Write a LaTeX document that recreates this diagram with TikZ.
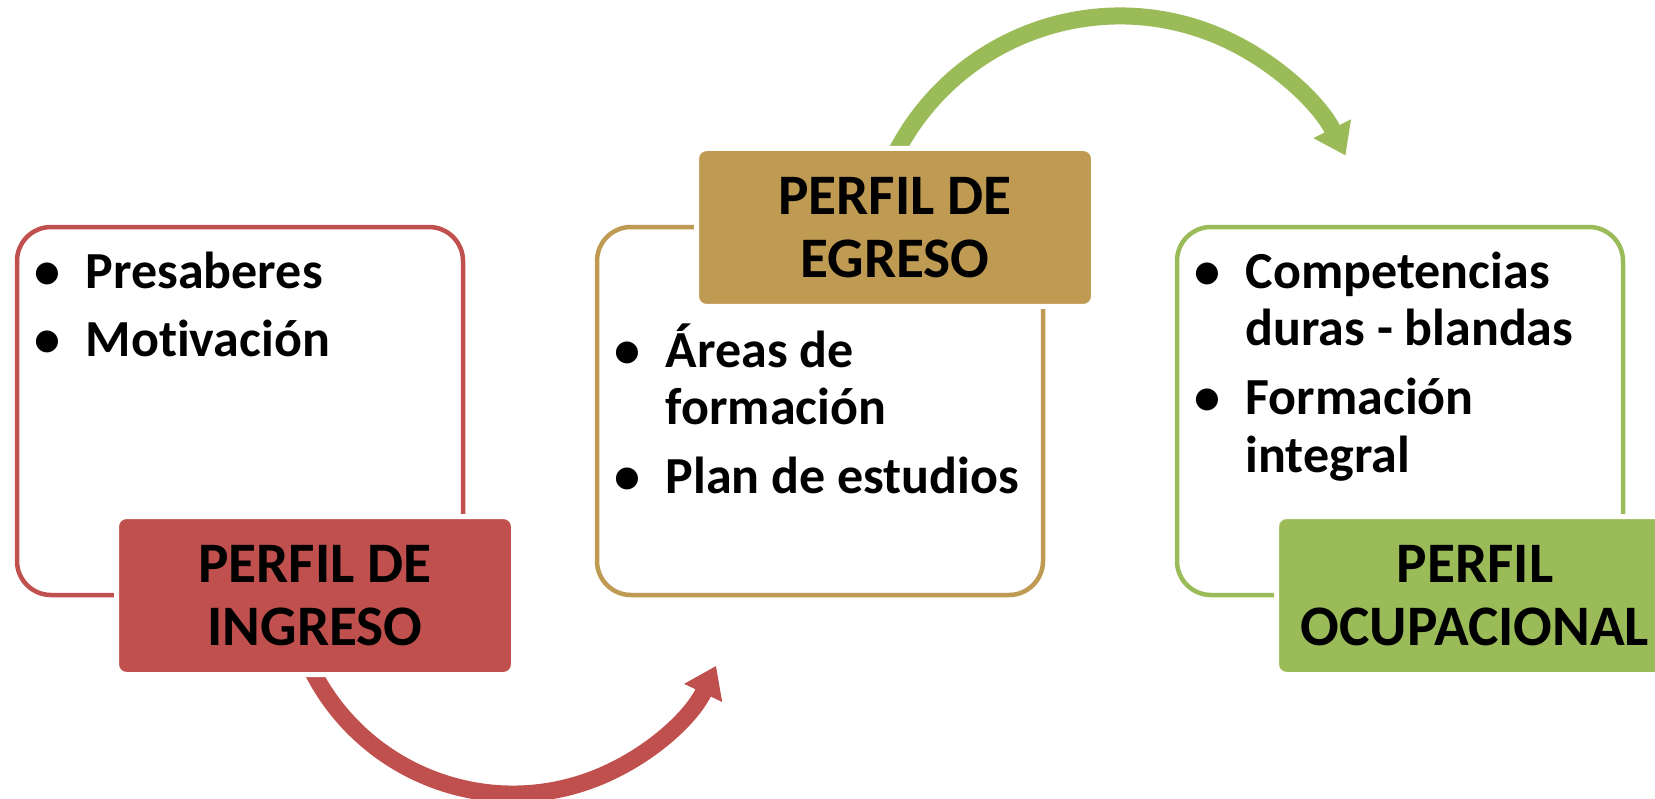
\documentclass[tikz,border=0pt]{standalone}
\usepackage{fontspec}
\setmainfont[Ligatures=NoCommon]{Carlito}
\usetikzlibrary{arrows.meta,calc}

\definecolor{ingresored}{HTML}{C0504D}
\definecolor{egresotan}{HTML}{BE9A53}
\definecolor{ocupgreen}{HTML}{9BBB59}

\newcommand{\listfont}{\fontsize{14.8pt}{5.8mm}\selectfont\bfseries\setlength{\parskip}{1.1mm}}
\newcommand{\bitem}[1]{\hangindent=3.8mm\hangafter=1\makebox[3.8mm][l]{\makebox[0pt][c]{\textbullet}}#1\par}

\begin{document}
\begin{tikzpicture}[x=0.1mm,y=-0.1mm,
  outline/.style={draw=#1, line width=0.45mm, rounded corners=3.4mm,
    minimum width=44.6mm, minimum height=36.8mm, inner sep=0pt},
  titlebox/.style={fill=#1, draw=white, line width=0.5mm, rounded corners=1mm,
    minimum width=39.7mm, minimum height=15.8mm, inner sep=0pt, align=center,
    font=\fontsize{16.3pt}{6.3mm}\selectfont\bfseries},
  bulletlist/.style={anchor=base west, inner sep=0pt, text width=45mm, align=left},
  flow/.style={line width=1.7mm, draw=#1, -{Triangle[length=3mm,width=4mm]}}]

\useasboundingbox (0,0) rectangle (1655,799);

% Outline boxes
\node[outline=ingresored] (ingresobox) at (240,411) {};
\node[outline=egresotan] (egresobox) at (820,411) {};
\node[outline=ocupgreen] (ocupbox) at (1400,411) {};

% Bullet lists
\node[bulletlist] (ingresolist) at (47,288) {\listfont\bitem{Presaberes}\bitem{Motivación}};
\node[bulletlist] (egresolist) at (627,367) {\listfont\bitem{Áreas de\newline formación}\bitem{Plan de estudios}};
\node[bulletlist] (ocuplist) at (1207,288) {\listfont\bitem{Competencias\newline duras - blandas}\bitem{Formación\newline integral}};

% Curved arrows
\coordinate (ingresoarc) at (513,569);
\draw[flow=ingresored] ($(ingresoarc)+(160:225)$) arc[start angle=160, end angle=25.5, radius=225];
\coordinate (egresoarc) at (1120,268);
\draw[flow=ocupgreen] ($(egresoarc)+(-155:252)$) arc[start angle=-155, end angle=-26.5, radius=252];

% Title boxes
\node[titlebox=ingresored] (ingreso) at (315,595.5) {PERFIL DE\\INGRESO};
\node[titlebox=egresotan] (egreso) at (895,227.5) {PERFIL DE\\EGRESO};
\node[titlebox=ocupgreen] (ocup) at (1475,595.5) {PERFIL\\OCUPACIONAL};

\end{tikzpicture}
\end{document}
